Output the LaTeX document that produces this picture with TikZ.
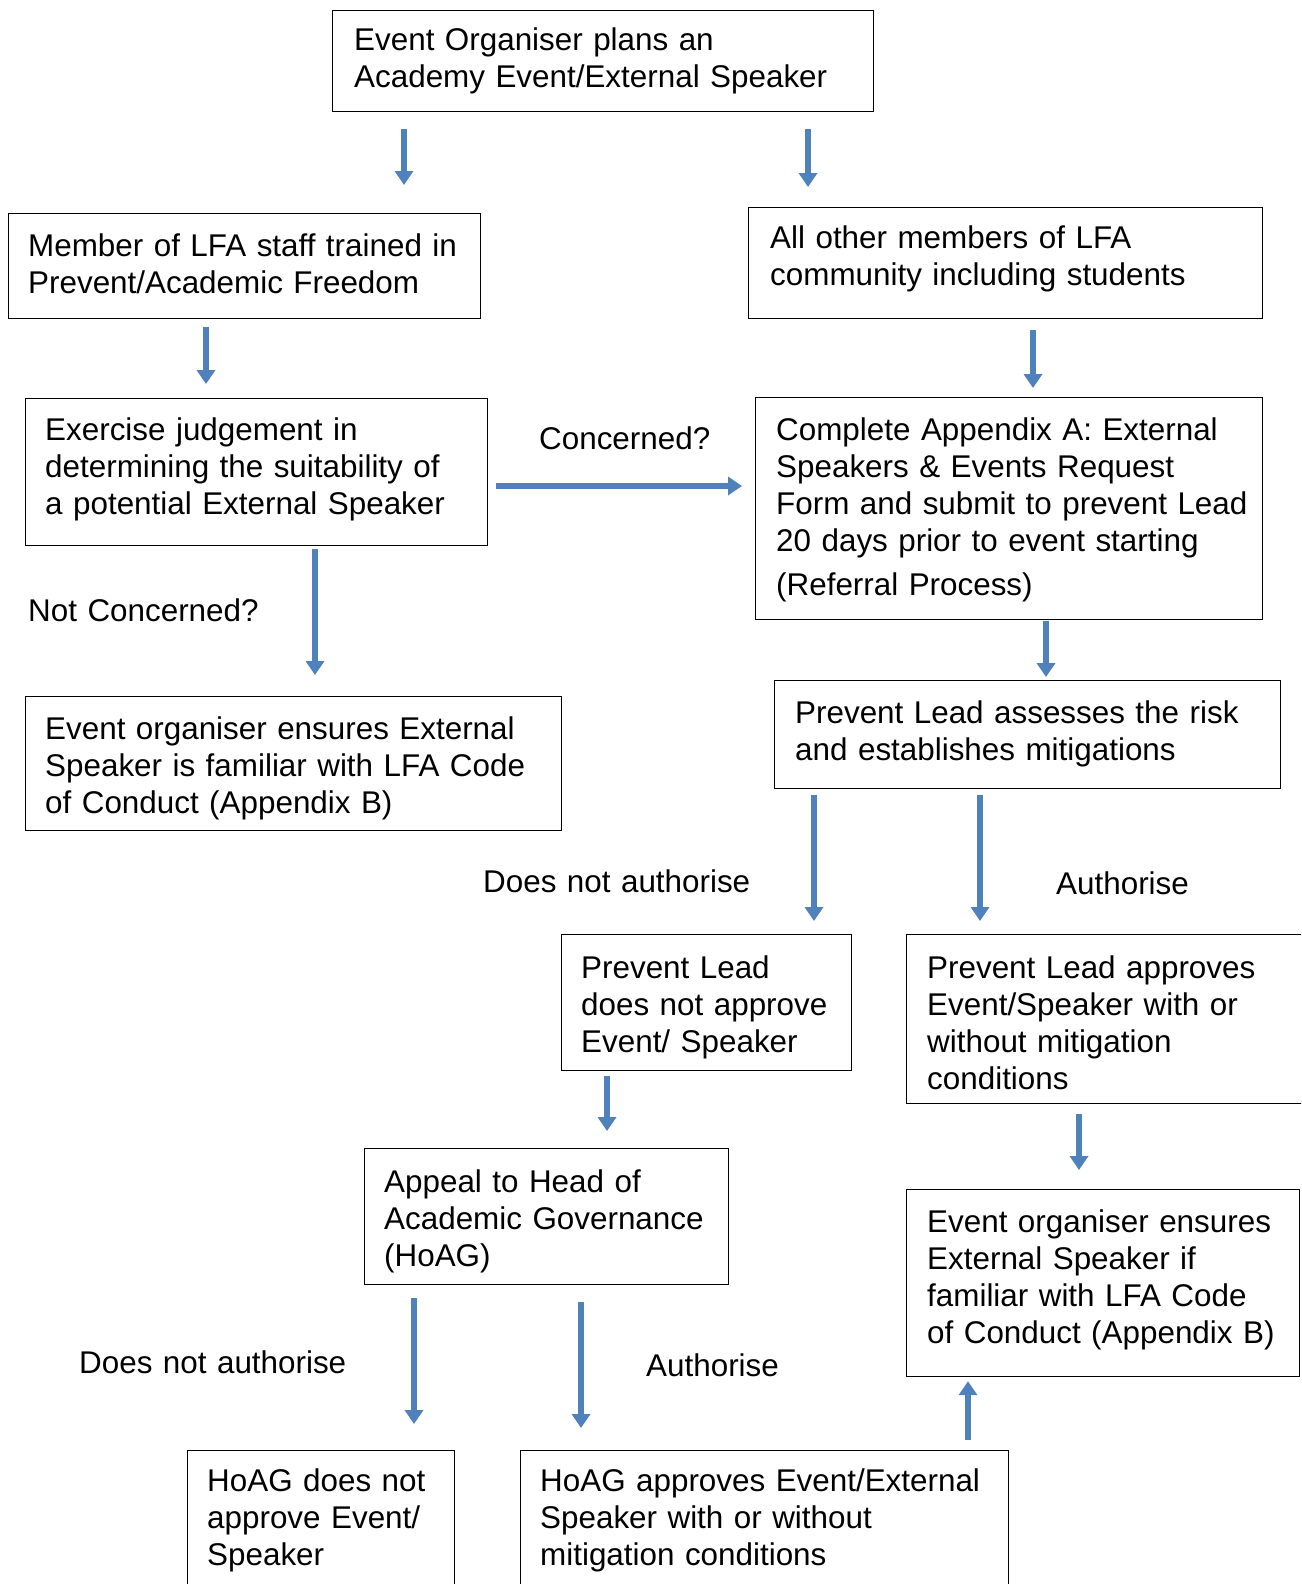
\documentclass[tikz,border=0pt]{standalone}
\usepackage{fontspec}
\setmainfont{Liberation Sans}
\usetikzlibrary{arrows.meta}
\definecolor{arrblue}{HTML}{4F81BD}
\begin{document}
\begin{tikzpicture}[x=1pt,y=-1pt,
  box/.style={draw=black, line width=1.2pt, anchor=north west, inner sep=0pt},
  txt/.style={anchor=base west, inner sep=0pt, text width=620pt, align=left,
              font=\fontsize{31.4}{37}\selectfont},
  arr/.style={draw=arrblue, line width=6pt, -{Triangle[width=18pt,length=14pt]}},
]
\useasboundingbox (0,0) rectangle (1301,1584);
\clip (0,0) rectangle (1301,1584);
\fill[white] (0,0) rectangle (1301,1584);

% boxes
\node[box, minimum width=541pt, minimum height=101pt] (b1) at (332,10) {};
\node[box, minimum width=472pt, minimum height=105pt] (b2) at (8,213) {};
\node[box, minimum width=514pt, minimum height=111pt] (b3) at (748,207) {};
\node[box, minimum width=462pt, minimum height=147pt] (b4) at (25,398) {};
\node[box, minimum width=507pt, minimum height=222pt] (b5) at (755,397) {};
\node[box, minimum width=536pt, minimum height=134pt] (b6) at (25,696) {};
\node[box, minimum width=506pt, minimum height=108pt] (b7) at (774,680) {};
\node[box, minimum width=290pt, minimum height=136pt] (b8) at (561,934) {};
\node[box, minimum width=400pt, minimum height=169pt] (b9) at (906,934) {};
\node[box, minimum width=364pt, minimum height=136pt] (b10) at (364,1148) {};
\node[box, minimum width=393pt, minimum height=187pt] (b11) at (906,1189) {};
\node[box, minimum width=267pt, minimum height=200pt] (b12) at (187,1450) {};
\node[box, minimum width=488pt, minimum height=200pt] (b13) at (520,1450) {};

% box texts
\node[txt] (t1) at (354,51) {Event Organiser plans an\\Academy Event/External Speaker};
\node[txt] (t2) at (28,256) {Member of LFA staff trained in\\Prevent/Academic Freedom};
\node[txt] (t3) at (770,248) {All other members of LFA\\community including students};
\node[txt] (t4) at (45,440) {Exercise judgement in\\determining the suitability of\\a potential External Speaker};
\node[txt] (t5) at (776,440) {Complete Appendix A: External\\Speakers \& Events Request\\Form and submit to prevent Lead\\20 days prior to event starting\\[7pt](Referral Process)};
\node[txt] (t6) at (45,739) {Event organiser ensures External\\Speaker is familiar with LFA Code\\of Conduct (Appendix B)};
\node[txt] (t7) at (795,723) {Prevent Lead assesses the risk\\and establishes mitigations};
\node[txt] (t8) at (581,978) {Prevent Lead\\does not approve\\Event/ Speaker};
\node[txt] (t9) at (927,978) {Prevent Lead approves\\Event/Speaker with or\\without mitigation\\conditions};
\node[txt] (t10) at (384,1192) {Appeal to Head of\\Academic Governance\\(HoAG)};
\node[txt] (t11) at (927,1232) {Event organiser ensures\\External Speaker if\\familiar with LFA Code\\of Conduct (Appendix B)};
\node[txt] (t12) at (207,1491) {HoAG does not\\approve Event/\\Speaker};
\node[txt] (t13) at (540,1491) {HoAG approves Event/External\\Speaker with or without\\mitigation conditions};

% labels
\node[txt] (l1) at (539,449) {Concerned?};
\node[txt] (l2) at (28,621) {Not Concerned?};
\node[txt] (l3) at (483,892) {Does not authorise};
\node[txt] (l4) at (1056,894) {Authorise};
\node[txt] (l5) at (79,1373) {Does not authorise};
\node[txt] (l6) at (646,1376) {Authorise};

% arrow x positions
\coordinate (x1) at (404,0);
\coordinate (x2) at (808,0);
\coordinate (x3) at (206,0);
\coordinate (x4) at (1033,0);
\coordinate (y5) at (0,486);
\coordinate (x6) at (315,0);
\coordinate (x7) at (1046,0);
\coordinate (x8) at (814,0);
\coordinate (x9) at (980,0);
\coordinate (x10) at (607,0);
\coordinate (x11) at (1079,0);
\coordinate (x12) at (414,0);
\coordinate (x13) at (581,0);
\coordinate (x14) at (968,0);

% arrows
\draw[arr, shorten <=17pt, shorten >=28pt] (b1.south -| x1) -- (b2.north -| x1);
\draw[arr, shorten <=17pt, shorten >=20pt] (b1.south -| x2) -- (b3.north -| x2);
\draw[arr, shorten <=8pt, shorten >=14pt] (b2.south -| x3) -- (b4.north -| x3);
\draw[arr, shorten <=11pt, shorten >=9pt] (b3.south -| x4) -- (b5.north -| x4);
\draw[arr, shorten <=8pt, shorten >=13pt] (b4.east |- y5) -- (b5.west |- y5);
\draw[arr, shorten <=3pt, shorten >=21pt] (b4.south -| x6) -- (b6.north -| x6);
\draw[arr, shorten <=1pt, shorten >=3pt] (b5.south -| x7) -- (b7.north -| x7);
\draw[arr, shorten <=6pt, shorten >=13pt] (b7.south -| x8) -- (b8.north -| x8);
\draw[arr, shorten <=6pt, shorten >=13pt] (b7.south -| x9) -- (b9.north -| x9);
\draw[arr, shorten <=5pt, shorten >=17pt] (b8.south -| x10) -- (b10.north -| x10);
\draw[arr, shorten <=10pt, shorten >=19pt] (b9.south -| x11) -- (b11.north -| x11);
\draw[arr, shorten <=13pt, shorten >=26pt] (b10.south -| x12) -- (b12.north -| x12);
\draw[arr, shorten <=17pt, shorten >=22pt] (b10.south -| x13) -- (b13.north -| x13);
\draw[arr, shorten <=10pt, shorten >=4pt] (b13.north -| x14) -- (b11.south -| x14);
\end{tikzpicture}
\end{document}
